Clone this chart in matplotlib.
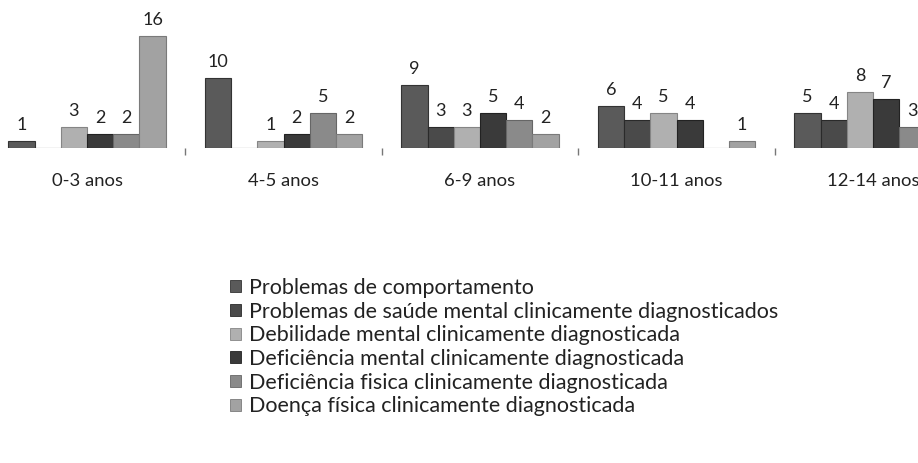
import matplotlib
matplotlib.use("Agg")
import matplotlib.pyplot as plt
from matplotlib.patches import Patch
import numpy as np

categories = ["0-3 anos", "4-5 anos", "6-9 anos", "10-11 anos", "12-14 anos"]
series_names = [
    "Problemas de comportamento",
    "Problemas de saúde mental clinicamente diagnosticados",
    "Debilidade mental clinicamente diagnosticada",
    "Deficiência mental clinicamente diagnosticada",
    "Deficiência fisica clinicamente diagnosticada",
    "Doença física clinicamente diagnosticada",
]
comportamento = [1, 10, 9, 6, 5]
saude_mental = [0, 0, 3, 4, 4]
debilidade = [3, 1, 3, 5, 8]
def_mental = [2, 2, 5, 4, 7]
def_fisica = [2, 5, 4, 0, 3]
doenca_fisica = [16, 2, 2, 1, 2]
values = [comportamento, saude_mental, debilidade, def_mental, def_fisica, doenca_fisica]
colors = ["#5a5a5a", "#4a4a4a", "#b0b0b0", "#3a3a3a", "#8a8a8a", "#a2a2a2"]
edges = ["#333333", "#2a2a2a", "#858585", "#222222", "#666666", "#7a7a7a"]

plt.rcParams['font.family'] = ['Lato', 'DejaVu Sans']

W, H = 918, 463
fig = plt.figure(figsize=(W / 100, H / 100), dpi=100)
base_px = 147.5
px_per_unit = 7.0
ymax = 20
ax = fig.add_axes([0, 1 - base_px / H, 1, ymax * px_per_unit / H])

grp_px = 196.5
c0 = 87.0
ax.set_xlim(-c0 / grp_px, (W - c0) / grp_px)
ax.set_ylim(0, ymax)

x = np.arange(len(categories))
n = len(values)
bw = 0.8 / n
for i, (vals, col, ec) in enumerate(zip(values, colors, edges)):
    pos = x - 0.4 + bw * (i + 0.5)
    bars = ax.bar(pos, vals, width=bw, color=col, edgecolor=ec, linewidth=0.8)
    for b, v in zip(bars, vals):
        if v > 0:
            ax.annotate(str(v), (b.get_x() + b.get_width() / 2, v),
                        xytext=(0, 5.5), textcoords="offset points",
                        ha="center", va="bottom", fontsize=13, color="#222222",
                        annotation_clip=False)

for s in ax.spines.values():
    s.set_visible(False)
ax.set_yticks([])
ax.set_xticks(x)
ax.set_xticklabels(categories, fontsize=13.3, color="#222222")
ax.tick_params(axis="x", which="major", length=0, pad=18)
ax.set_xticks(x[:-1] + 0.5, minor=True)
ax.tick_params(axis="x", which="minor", length=5, width=1, color="#777777", pad=0)

handles = [Patch(facecolor=c, edgecolor=e, linewidth=0.6) for c, e in zip(colors, edges)]
fig.legend(handles, series_names, loc="upper left",
           bbox_to_anchor=(230 / W, 1 - 278 / H), frameon=False,
           fontsize=15.5, handlelength=0.5, handleheight=0.5,
           handletextpad=0.4, labelspacing=0.17, borderaxespad=0, borderpad=0,
           labelcolor="#222222")

fig.savefig("out.png", dpi=100)
